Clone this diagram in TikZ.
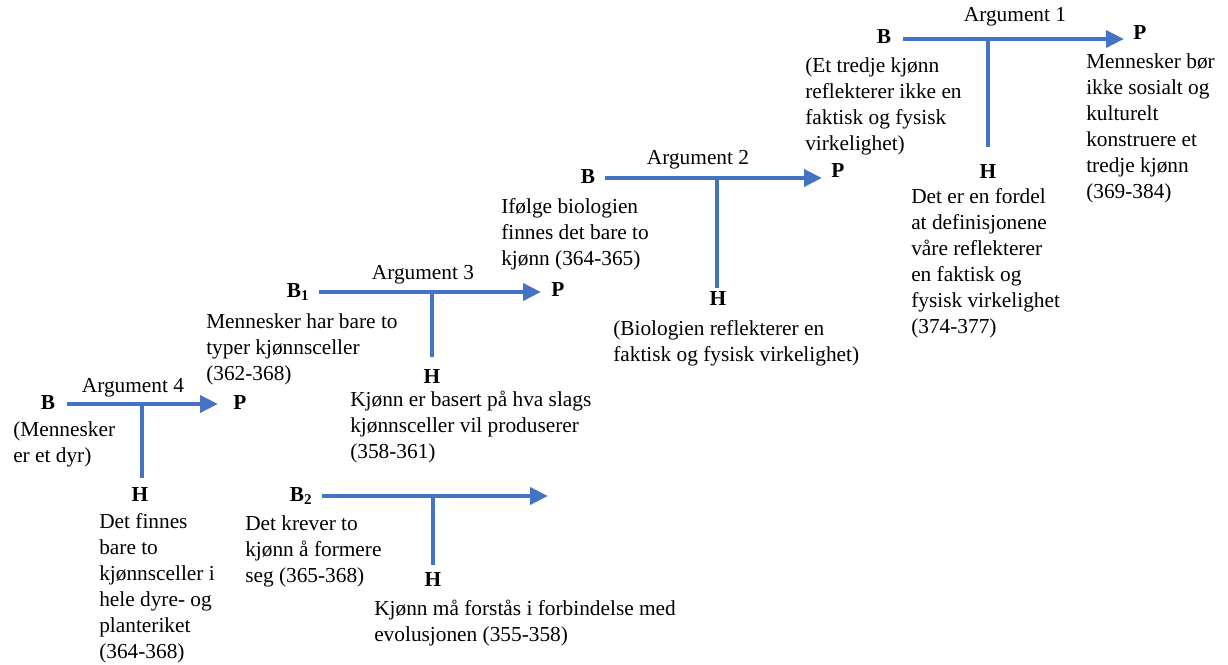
\documentclass[tikz,border=0pt]{standalone}
\usepackage{fontspec}
\setmainfont{Liberation Serif}
\usetikzlibrary{arrows.meta}
\definecolor{argblue}{RGB}{68,114,196}
\tikzset{
  lbl/.style={font=\fontsize{16}{19.5}\selectfont, inner sep=0.75pt},
  txt/.style={lbl, anchor=base west, align=left},
  key/.style={lbl, font=\fontsize{16}{19.5}\selectfont\bfseries},
  arg/.style={draw=argblue, line width=3.6pt, -{Triangle[length=13.5pt,width=12.5pt]}},
  stem/.style={draw=argblue, line width=3.6pt},
}

\begin{document}
\begin{tikzpicture}[x=0.75pt,y=0.75pt,yscale=-1,xscale=1]
    \useasboundingbox (0,0) rectangle (1228,664);

    % Argument 1
    \coordinate (s1) at (903,39);
    \coordinate (e1) at (1124,39);
    \coordinate (j1) at (988,39);
    \coordinate (t1) at (988,147);
    %Straight Lines
    \draw [arg] (s1) -- (e1);
    \draw [stem] (j1) -- (t1);
    % Text Node (txt nodes sit on the baseline of their last line)
    \node [key] (b1) at (884,37) {B};
    \node [key] (p1) at (1140,33) {P};
    \node [key] (h1) at (988,172) {H};
    \node [lbl] (a1) at (1015,17) {Argument 1};
    \node [txt] (bt1) at (804,150) {(Et tredje kjønn\\reflekterer ikke en\\faktisk og fysisk\\virkelighet)};
    \node [txt] (ht1) at (910,333) {Det er en fordel\\at definisjonene\\våre reflekterer\\en faktisk og\\fysisk virkelighet\\(374-377)};
    \node [txt] (pt1) at (1085,198) {Mennesker bør\\ikke sosialt og\\kulturelt\\konstruere et\\tredje kjønn\\(369-384)};

    % Argument 2
    \coordinate (s2) at (605,178);
    \coordinate (e2) at (822,178);
    \coordinate (j2) at (717,178);
    \coordinate (t2) at (717,288);
    %Straight Lines
    \draw [arg] (s2) -- (e2);
    \draw [stem] (j2) -- (t2);
    % Text Node
    \node [key] (b2) at (588,177) {B};
    \node [key] (p2) at (838,171) {P};
    \node [key] (h2) at (718,299) {H};
    \node [lbl] (a2) at (698,160) {Argument 2};
    \node [txt] (bt2) at (500,265) {Ifølge biologien\\finnes det bare to\\kjønn (364-365)};
    \node [txt] (ht2) at (612,361) {(Biologien reflekterer en\\faktisk og fysisk virkelighet)};

    % Argument 3
    \coordinate (s3) at (319,292);
    \coordinate (e3) at (541,292);
    \coordinate (j3) at (432,292);
    \coordinate (t3) at (432,357);
    %Straight Lines
    \draw [arg] (s3) -- (e3);
    \draw [stem] (j3) -- (t3);
    % Text Node
    \node [key] (b3) at (298,292) {B\textsubscript{1}};
    \node [key] (p3) at (558,290) {P};
    \node [key] (h3) at (432,377) {H};
    \node [lbl] (a3) at (423,275) {Argument 3};
    \node [txt] (bt3) at (205,380) {Mennesker har bare to\\typer kjønnsceller\\(362-368)};
    \node [txt] (ht3) at (349,458) {Kjønn er basert på hva slags\\kjønnsceller vil produserer\\(358-361)};

    % Argument 4
    \coordinate (s4) at (67,404);
    \coordinate (e4) at (218,404);
    \coordinate (j4) at (142,404);
    \coordinate (t4) at (142,478);
    %Straight Lines
    \draw [arg] (s4) -- (e4);
    \draw [stem] (j4) -- (t4);
    % Text Node
    \node [key] (b4) at (48,403) {B};
    \node [key] (p4) at (240,403) {P};
    \node [key] (h4) at (140,495) {H};
    \node [lbl] (a4) at (133,388) {Argument 4};
    \node [txt] (bt4) at (12,462) {(Mennesker\\er et dyr)};
    \node [txt] (ht4) at (98,658) {Det finnes\\bare to\\kjønnsceller i\\hele dyre- og\\planteriket\\(364-368)};

    % B2 branch
    \coordinate (s5) at (322,496);
    \coordinate (e5) at (548,496);
    \coordinate (j5) at (433,496);
    \coordinate (t5) at (433,565);
    %Straight Lines
    \draw [arg] (s5) -- (e5);
    \draw [stem] (j5) -- (t5);
    % Text Node
    \node [key] (b5) at (301,496) {B\textsubscript{2}};
    \node [key] (h5) at (433,580) {H};
    \node [txt] (bt5) at (244,582) {Det krever to\\kjønn å formere\\seg (365-368)};
    \node [txt] (ht5) at (373,641) {Kjønn må forstås i forbindelse med\\evolusjonen (355-358)};
\end{tikzpicture}
\end{document}
